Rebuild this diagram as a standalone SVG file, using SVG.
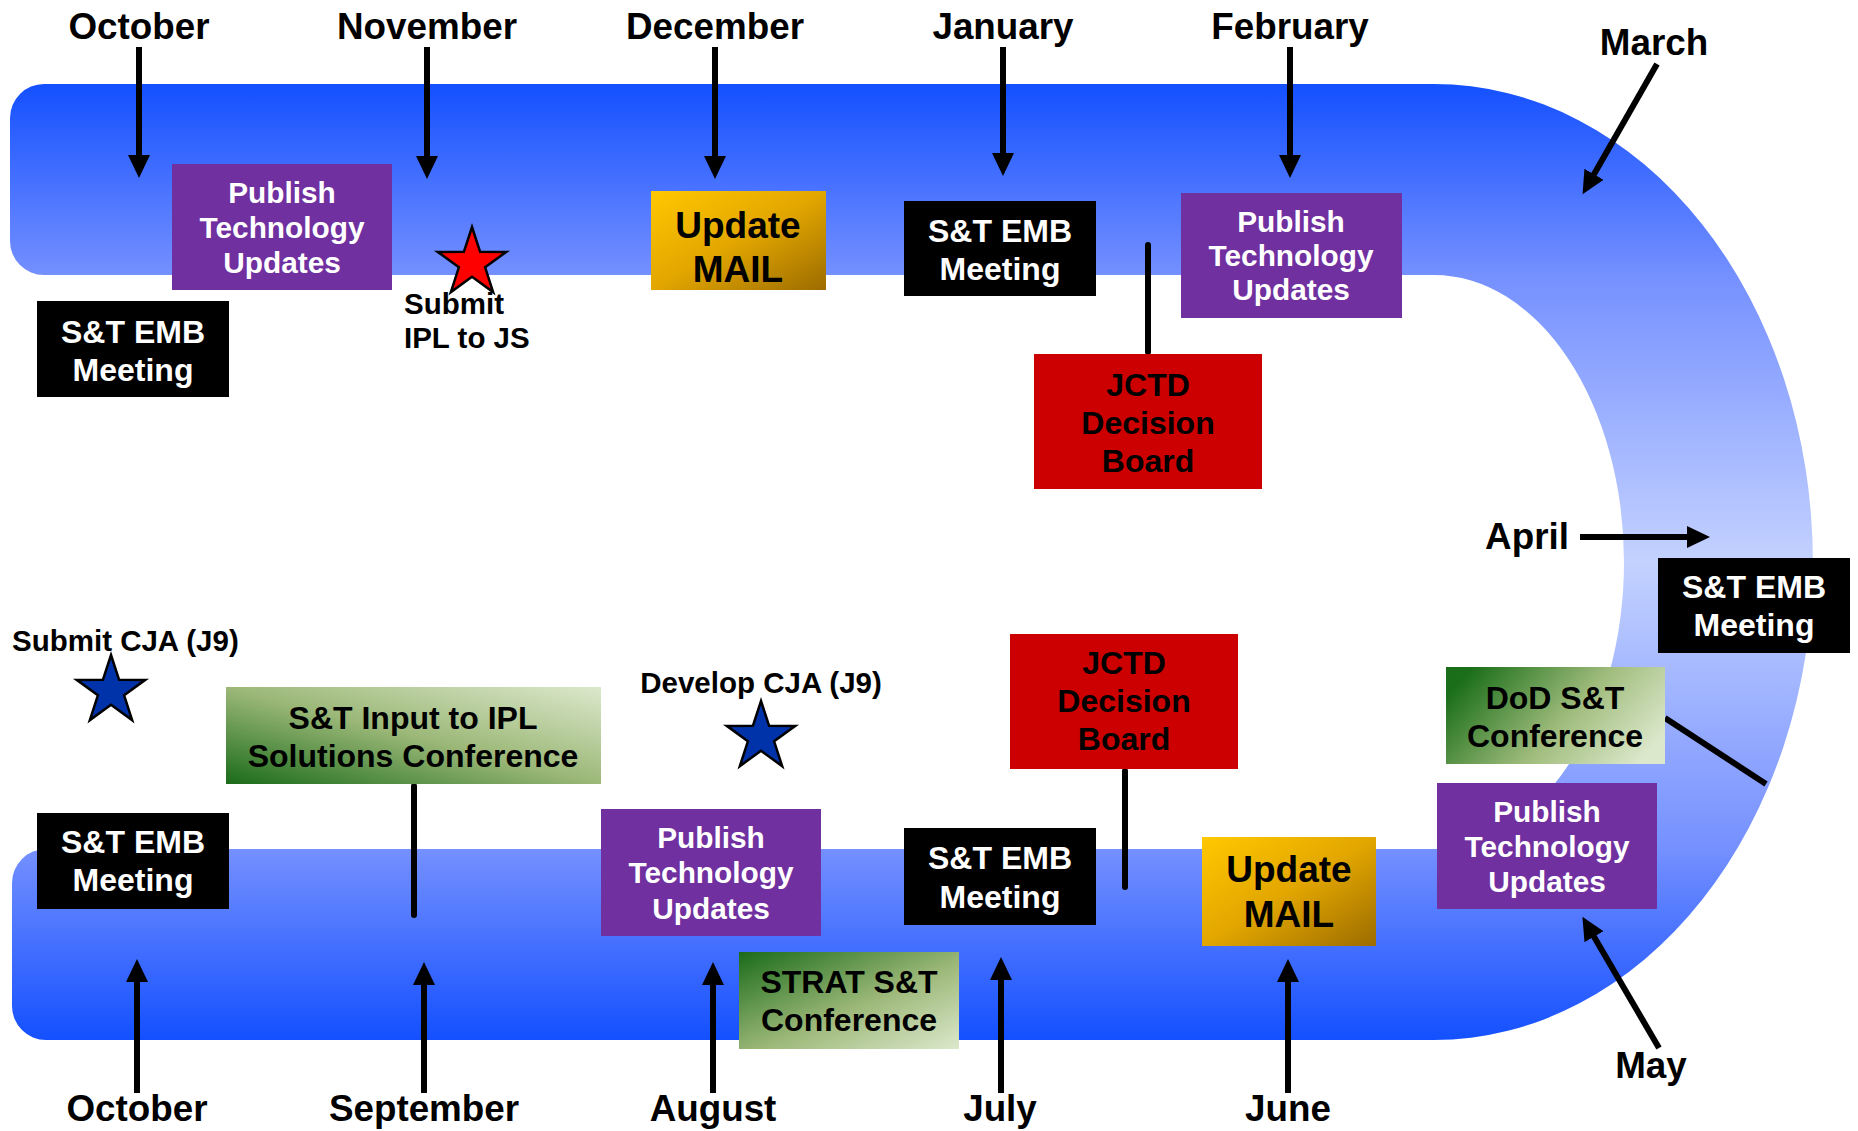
<svg xmlns="http://www.w3.org/2000/svg" xmlns:xlink="http://www.w3.org/1999/xlink" width="1858" height="1131" viewBox="0 0 1858 1131">
<style>
text{font-family:"Liberation Sans",Arial,sans-serif;font-weight:bold;}
.m{font-size:36.8px;fill:#000;text-anchor:middle;}
.w{font-size:32px;fill:#fff;text-anchor:middle;}
.b{font-size:32px;fill:#000;text-anchor:middle;}
.pw{font-size:29.8px;fill:#fff;text-anchor:middle;}
.um{font-size:37px;fill:#000;text-anchor:middle;}
.s{font-size:29.5px;fill:#000;}
.arr{stroke:#000;stroke-width:6;fill:none;marker-end:url(#ah);}
.ln{stroke:#000;stroke-width:6;fill:none;stroke-linecap:round;}
.emb{fill:#000;}
.pub{fill:#7030a0;}
.jctd{fill:#cc0000;}
.star{stroke:#000;stroke-width:2.5;stroke-linejoin:miter;}
</style>
<defs>
<linearGradient id="band" gradientUnits="userSpaceOnUse" x1="0" y1="84" x2="0" y2="1040">
<stop offset="0" stop-color="#1450ff"/>
<stop offset="0.2" stop-color="#7590ff"/>
<stop offset="0.5" stop-color="#c4d2ff"/>
<stop offset="0.8" stop-color="#7590ff"/>
<stop offset="1" stop-color="#1450ff"/>
</linearGradient>
<linearGradient id="gold" x1="0" y1="0" x2="1" y2="1">
<stop offset="0" stop-color="#ffc800"/>
<stop offset="0.5" stop-color="#e2a600"/>
<stop offset="1" stop-color="#9c6c00"/>
</linearGradient>
<linearGradient id="gTL" x1="0" y1="0" x2="1" y2="1">
<stop offset="0" stop-color="#1a6b1a"/>
<stop offset="0.55" stop-color="#9cb878"/>
<stop offset="1" stop-color="#dce8cc"/>
</linearGradient>
<linearGradient id="gL" x1="0" y1="0.3" x2="1" y2="0.7">
<stop offset="0" stop-color="#1a6e1a"/>
<stop offset="0.55" stop-color="#a0bc7c"/>
<stop offset="1" stop-color="#dce8cc"/>
</linearGradient>
<linearGradient id="gBL" x1="0" y1="1" x2="1" y2="0">
<stop offset="0" stop-color="#1a6b1a"/>
<stop offset="0.5" stop-color="#9cb878"/>
<stop offset="1" stop-color="#dce8cc"/>
</linearGradient>
<marker id="ah" markerUnits="userSpaceOnUse" markerWidth="26" markerHeight="24" refX="2" refY="12" orient="auto" viewBox="0 0 26 24">
<path d="M0,1 L23,12 L0,23 Z" fill="#000"/>
</marker>
<polygon id="star" points="0,-36 8.11,-11.16 34.24,-11.12 13.12,4.26 21.16,29.12 0,13.8 -21.16,29.12 -13.12,4.26 -34.24,-11.12 -8.11,-11.16"/>
</defs>

<g id="timeline-band">
<path d="M44,84 H1434 A379 478 0 0 1 1434 1040 H46 A34 34 0 0 1 12 1006 V883 A34 34 0 0 1 46 849 H1434 A190 287 0 0 0 1434 275 H44 A34 34 0 0 1 10 241 V118 A34 34 0 0 1 44 84 Z" fill="url(#band)"/>
</g>

<g id="connectors">
<line class="arr" x1="139" y1="47" x2="139" y2="157"/>
<line class="arr" x1="427" y1="47" x2="427" y2="158"/>
<line class="arr" x1="715" y1="47" x2="715" y2="158"/>
<line class="arr" x1="1003" y1="47" x2="1003" y2="155"/>
<line class="arr" x1="1290" y1="47" x2="1290" y2="157"/>
<line class="arr" x1="1657" y1="64" x2="1593" y2="176"/>
<line class="arr" x1="1580" y1="537" x2="1689" y2="537"/>
<line class="arr" x1="1659" y1="1048" x2="1593" y2="935"/>
<line class="arr" x1="137" y1="1093" x2="137" y2="980"/>
<line class="arr" x1="424" y1="1093" x2="424" y2="983"/>
<line class="arr" x1="713" y1="1093" x2="713" y2="983"/>
<line class="arr" x1="1001" y1="1093" x2="1001" y2="978"/>
<line class="arr" x1="1288" y1="1093" x2="1288" y2="980"/>
<line class="ln" x1="1148" y1="245" x2="1148" y2="352"/>
<line class="ln" x1="1125" y1="771" x2="1125" y2="887"/>
<line class="ln" x1="414" y1="786" x2="414" y2="915"/>
<line class="ln" style="stroke-linecap:butt" x1="1665" y1="718" x2="1766" y2="784"/>
</g>

<g id="month-october-top"><text class="m" x="139" y="39">October</text></g>
<g id="month-november"><text class="m" x="427" y="39">November</text></g>
<g id="month-december"><text class="m" x="715" y="39">December</text></g>
<g id="month-january"><text class="m" x="1003" y="39">January</text></g>
<g id="month-february"><text class="m" x="1290" y="39">February</text></g>
<g id="month-march"><text class="m" x="1654" y="55">March</text></g>
<g id="month-april"><text class="m" x="1527" y="549">April</text></g>
<g id="month-may"><text class="m" x="1651" y="1078">May</text></g>
<g id="month-june"><text class="m" x="1288" y="1121">June</text></g>
<g id="month-july"><text class="m" x="1000" y="1121">July</text></g>
<g id="month-august"><text class="m" x="713" y="1121">August</text></g>
<g id="month-september"><text class="m" x="424" y="1121">September</text></g>
<g id="month-october-bottom"><text class="m" x="137" y="1121">October</text></g>

<g id="publish-oct">
<rect class="pub" x="172" y="164" width="220" height="126"/>
<text class="pw" x="282" y="203">Publish</text>
<text class="pw" x="282" y="238">Technology</text>
<text class="pw" x="282" y="273">Updates</text>
</g>
<g id="emb-oct-top">
<rect class="emb" x="37" y="301" width="192" height="96"/>
<text class="w" x="133" y="343">S&amp;T EMB</text>
<text class="w" x="133" y="381">Meeting</text>
</g>
<g id="submit-ipl">
<use xlink:href="#star" href="#star" x="472" y="263" fill="#ff0000" class="star"/>
<text class="s" x="404" y="314">Submit</text>
<text class="s" x="404" y="348">IPL to JS</text>
</g>
<g id="update-mail-dec">
<rect x="651" y="191" width="175" height="99" fill="url(#gold)"/>
<text class="um" x="738" y="238">Update</text>
<text class="um" x="738" y="282">MAIL</text>
</g>
<g id="emb-jan">
<rect class="emb" x="904" y="201" width="192" height="95"/>
<text class="w" x="1000" y="242">S&amp;T EMB</text>
<text class="w" x="1000" y="280">Meeting</text>
</g>
<g id="jctd-top">
<rect class="jctd" x="1034" y="354" width="228" height="135"/>
<text class="b" x="1148" y="396">JCTD</text>
<text class="b" x="1148" y="434">Decision</text>
<text class="b" x="1148" y="472">Board</text>
</g>
<g id="publish-feb">
<rect class="pub" x="1181" y="193" width="221" height="125"/>
<text class="pw" x="1291" y="232">Publish</text>
<text class="pw" x="1291" y="266">Technology</text>
<text class="pw" x="1291" y="300">Updates</text>
</g>
<g id="emb-apr">
<rect class="emb" x="1658" y="558" width="192" height="95"/>
<text class="w" x="1754" y="598">S&amp;T EMB</text>
<text class="w" x="1754" y="636">Meeting</text>
</g>
<g id="dod-conf">
<rect x="1446" y="667" width="219" height="97" fill="url(#gL)"/>
<text class="b" x="1555" y="709">DoD S&amp;T</text>
<text class="b" x="1555" y="747">Conference</text>
</g>
<g id="publish-may">
<rect class="pub" x="1437" y="783" width="220" height="126"/>
<text class="pw" x="1547" y="822">Publish</text>
<text class="pw" x="1547" y="857">Technology</text>
<text class="pw" x="1547" y="892">Updates</text>
</g>
<g id="update-mail-jun">
<rect x="1202" y="837" width="174" height="109" fill="url(#gold)"/>
<text class="um" x="1289" y="882">Update</text>
<text class="um" x="1289" y="927">MAIL</text>
</g>
<g id="jctd-bottom">
<rect class="jctd" x="1010" y="634" width="228" height="135"/>
<text class="b" x="1124" y="674">JCTD</text>
<text class="b" x="1124" y="712">Decision</text>
<text class="b" x="1124" y="750">Board</text>
</g>
<g id="emb-jul">
<rect class="emb" x="904" y="828" width="192" height="97"/>
<text class="w" x="1000" y="869">S&amp;T EMB</text>
<text class="w" x="1000" y="908">Meeting</text>
</g>
<g id="publish-aug">
<rect class="pub" x="601" y="809" width="220" height="127"/>
<text class="pw" x="711" y="848">Publish</text>
<text class="pw" x="711" y="883">Technology</text>
<text class="pw" x="711" y="919">Updates</text>
</g>
<g id="strat-conf">
<rect x="739" y="952" width="220" height="97" fill="url(#gTL)"/>
<text class="b" x="849" y="993">STRAT S&amp;T</text>
<text class="b" x="849" y="1031">Conference</text>
</g>
<g id="develop-cja">
<text class="s" x="761" y="693" text-anchor="middle">Develop CJA (J9)</text>
<use xlink:href="#star" href="#star" x="761" y="737" fill="#0033aa" class="star"/>
</g>
<g id="input-ipl-conf">
<rect x="226" y="687" width="375" height="97" fill="url(#gBL)"/>
<text class="b" x="413" y="729">S&amp;T Input to IPL</text>
<text class="b" x="413" y="767">Solutions Conference</text>
</g>
<g id="emb-oct-bottom">
<rect class="emb" x="37" y="813" width="192" height="96"/>
<text class="w" x="133" y="853">S&amp;T EMB</text>
<text class="w" x="133" y="891">Meeting</text>
</g>
<g id="submit-cja">
<text class="s" x="12" y="651">Submit CJA (J9)</text>
<use xlink:href="#star" href="#star" x="111" y="691" fill="#0033aa" class="star"/>
</g>
</svg>
